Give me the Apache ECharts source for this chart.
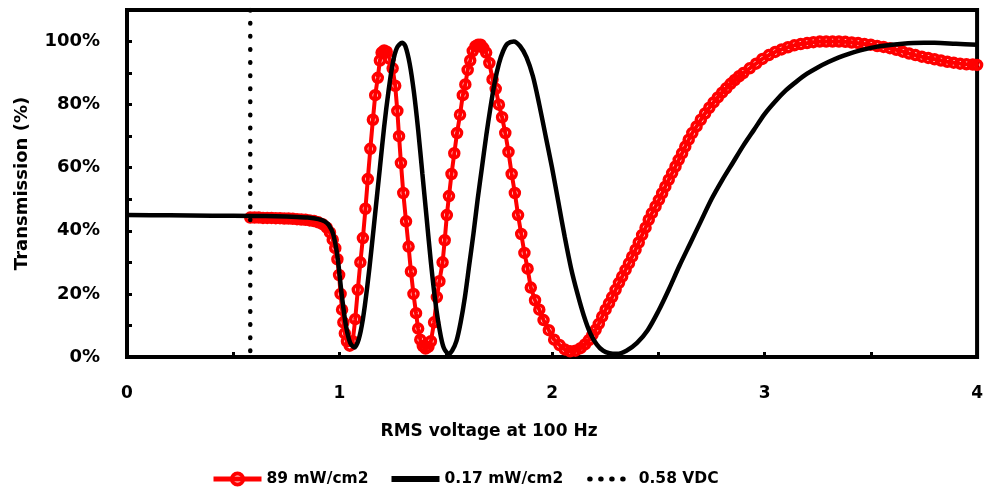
<!DOCTYPE html>
<html>
<head>
<meta charset="utf-8">
<script src="https://cdn.jsdelivr.net/npm/echarts@6/dist/echarts.min.js"></script>
<style>html,body{margin:0;padding:0;background:#fff;}#c{width:986px;height:491px;}</style>
</head>
<body>
<div id="c"></div>
<script>
// ---- data ----
const seriesNames = ['89 mW/cm2', '0.17 mW/cm2', '0.58 VDC'];
const xLabels = ['0', '1', '2', '3', '4'];
const yLabels = ['0%', '20%', '40%', '60%', '80%', '100%'];

const redVoltage = [0.58,0.60,0.62,0.64,0.66,0.68,0.70,0.72,0.74,0.76,0.78,0.80,0.82,0.84,0.86,0.88,0.90,0.92,0.94,0.955,0.968,0.98,0.99,0.998,1.005,1.012,1.018,1.025,1.035,1.048,1.062,1.074,1.086,1.098,1.11,1.122,1.133,1.145,1.157,1.168,1.18,1.19,1.198,1.21,1.222,1.236,1.25,1.262,1.272,1.28,1.289,1.30,1.313,1.325,1.336,1.348,1.36,1.37,1.38,1.392,1.405,1.418,1.43,1.445,1.458,1.47,1.485,1.495,1.505,1.515,1.527,1.54,1.553,1.567,1.58,1.592,1.603,1.615,1.627,1.64,1.652,1.664,1.676,1.69,1.705,1.72,1.735,1.75,1.765,1.78,1.795,1.81,1.825,1.84,1.855,1.87,1.885,1.90,1.92,1.94,1.96,1.985,2.01,2.035,2.06,2.085,2.11,2.134,2.155,2.174,2.19,2.205,2.22,2.236,2.252,2.268,2.283,2.299,2.315,2.33,2.346,2.362,2.377,2.393,2.408,2.424,2.44,2.455,2.47,2.487,2.503,2.518,2.533,2.549,2.565,2.581,2.596,2.612,2.627,2.643,2.66,2.68,2.70,2.72,2.74,2.76,2.78,2.80,2.82,2.84,2.86,2.88,2.90,2.93,2.96,2.99,3.02,3.05,3.08,3.11,3.14,3.17,3.20,3.23,3.26,3.29,3.32,3.35,3.38,3.41,3.44,3.47,3.50,3.53,3.56,3.59,3.62,3.65,3.68,3.71,3.74,3.77,3.80,3.83,3.86,3.89,3.92,3.95,3.98,4.00];
const redTransmission = [0.442,0.442,0.442,0.441,0.441,0.441,0.440,0.440,0.439,0.439,0.438,0.437,0.436,0.435,0.433,0.431,0.427,0.421,0.410,0.395,0.372,0.345,0.31,0.26,0.20,0.15,0.11,0.075,0.05,0.036,0.05,0.12,0.213,0.30,0.377,0.47,0.564,0.66,0.752,0.83,0.885,0.94,0.965,0.972,0.968,0.945,0.915,0.86,0.78,0.70,0.615,0.52,0.43,0.35,0.271,0.20,0.139,0.09,0.055,0.035,0.027,0.032,0.05,0.11,0.19,0.24,0.30,0.37,0.45,0.51,0.58,0.646,0.71,0.768,0.83,0.864,0.91,0.94,0.97,0.985,0.99,0.99,0.98,0.965,0.932,0.88,0.85,0.80,0.76,0.71,0.65,0.58,0.52,0.45,0.39,0.33,0.28,0.22,0.18,0.15,0.117,0.085,0.055,0.038,0.024,0.018,0.02,0.028,0.04,0.054,0.07,0.086,0.105,0.128,0.15,0.17,0.19,0.213,0.235,0.255,0.276,0.297,0.318,0.34,0.363,0.387,0.41,0.435,0.456,0.477,0.498,0.519,0.54,0.562,0.583,0.604,0.625,0.646,0.667,0.689,0.71,0.731,0.752,0.772,0.79,0.807,0.823,0.838,0.852,0.866,0.878,0.89,0.90,0.915,0.93,0.945,0.957,0.967,0.975,0.982,0.988,0.992,0.995,0.998,1.0,1.0,1.0,1.0,0.999,0.997,0.995,0.992,0.99,0.986,0.983,0.979,0.974,0.968,0.962,0.957,0.952,0.948,0.944,0.94,0.936,0.933,0.93,0.928,0.927,0.926];

const blackVoltage = [0,0.2,0.4,0.6,0.7,0.8,0.85,0.9,0.93,0.95,0.97,0.99,1.01,1.03,1.05,1.07,1.09,1.11,1.13,1.15,1.17,1.19,1.21,1.23,1.25,1.27,1.295,1.31,1.33,1.35,1.37,1.39,1.41,1.43,1.45,1.47,1.49,1.515,1.53,1.55,1.57,1.59,1.61,1.63,1.65,1.67,1.69,1.71,1.73,1.75,1.77,1.79,1.82,1.85,1.88,1.91,1.94,1.97,2.0,2.03,2.06,2.09,2.12,2.15,2.18,2.21,2.24,2.27,2.305,2.35,2.40,2.45,2.50,2.55,2.60,2.65,2.70,2.75,2.80,2.85,2.90,2.95,3.00,3.05,3.10,3.15,3.20,3.25,3.30,3.35,3.40,3.45,3.50,3.55,3.60,3.65,3.70,3.75,3.80,3.90,4.00];
const blackTransmission = [0.45,0.449,0.448,0.447,0.446,0.444,0.442,0.437,0.43,0.418,0.39,0.32,0.2,0.1,0.045,0.03,0.055,0.12,0.22,0.34,0.47,0.6,0.73,0.84,0.93,0.98,0.996,0.985,0.93,0.84,0.72,0.58,0.44,0.3,0.18,0.09,0.03,0.01,0.02,0.05,0.11,0.19,0.29,0.39,0.5,0.6,0.7,0.79,0.87,0.93,0.97,0.993,1.0,0.985,0.95,0.89,0.8,0.7,0.6,0.49,0.38,0.28,0.2,0.13,0.075,0.04,0.02,0.012,0.01,0.02,0.045,0.085,0.145,0.215,0.29,0.36,0.43,0.50,0.56,0.615,0.67,0.72,0.77,0.81,0.845,0.873,0.898,0.918,0.935,0.95,0.962,0.972,0.98,0.986,0.99,0.993,0.995,0.996,0.996,0.993,0.99];

const vdcVoltage = [0.58, 0.58];
const vdcTransmission = [0.0, 1.1];

const zip = (a, b) => a.map((v, i) => [v, b[i]]);

const FONT = 'DejaVu Sans';
const chart = echarts.init(document.getElementById('c'), null, {renderer: 'canvas'});
chart.setOption({
  animation: false,
  backgroundColor: '#fff',
  grid: {left: 127, right: 7, top: 10, bottom: 134, show: true, borderColor: '#000', borderWidth: 4, backgroundColor: 'transparent'},
  legend: {
    left: 206, top: 466, itemWidth: 48, itemHeight: 14, itemGap: 20,
    textStyle: {fontFamily: FONT, fontWeight: 'bold', fontSize: 15.5, color: '#000'},
    data: [
      {name: seriesNames[0], lineStyle: {width: 5}, itemStyle: {borderWidth: 4}},
      {name: seriesNames[1], itemStyle: {opacity: 0}, lineStyle: {width: 6}},
      {name: seriesNames[2], itemStyle: {opacity: 0}, lineStyle: {width: 5, type: [0.5, 10.5], cap: 'round', dashOffset: -4}}
    ]
  },
  xAxis: {
    type: 'value', min: 0, max: 4, interval: 0.5,
    name: 'RMS voltage at 100 Hz', nameLocation: 'middle', nameGap: 66,
    nameTextStyle: {fontFamily: FONT, fontWeight: 'bold', fontSize: 17, color: '#000', padding: [0, 126, 0, 0]},
    axisLine: {show: true, lineStyle: {color: '#000', width: 4}},
    axisTick: {show: true, inside: true, length: 5, lineStyle: {color: '#000', width: 3}},
    axisLabel: {margin: 28, fontFamily: FONT, fontWeight: 'bold', fontSize: 17, color: '#000',
      formatter: v => { const s = String(Math.round(v)); return (Math.abs(v - Math.round(v)) < 1e-6 && xLabels.includes(s)) ? s : ''; }},
    splitLine: {show: false}
  },
  yAxis: {
    type: 'value', min: 0, max: 1.1, interval: 0.1,
    name: 'Transmission (%)', nameLocation: 'middle', nameGap: 96,
    nameTextStyle: {fontFamily: FONT, fontWeight: 'bold', fontSize: 18, color: '#000'},
    axisLine: {show: true, lineStyle: {color: '#000', width: 4}},
    axisTick: {show: true, inside: true, length: 5, lineStyle: {color: '#000', width: 3}},
    axisLabel: {margin: 27, fontFamily: FONT, fontWeight: 'bold', fontSize: 18, color: '#000',
      formatter: v => { const p = Math.round(v * 100); const s = p + '%'; return (p % 20 === 0 && yLabels.includes(s)) ? s : ''; }},
    splitLine: {show: false}
  },
  series: [
    {
      name: seriesNames[0], type: 'line', data: zip(redVoltage, redTransmission),
      symbol: 'circle', symbolSize: 9, showSymbol: true,
      itemStyle: {color: 'rgba(255,0,0,0)', borderColor: '#ff0000', borderWidth: 3.5},
      lineStyle: {color: '#ff0000', width: 4}, z: 2
    },
    {
      name: seriesNames[1], type: 'line', data: zip(blackVoltage, blackTransmission),
      showSymbol: false, symbol: 'none', smooth: 0.3,
      itemStyle: {color: '#000'},
      lineStyle: {color: '#000', width: 4.5}, z: 3
    },
    {
      name: seriesNames[2], type: 'line', data: zip(vdcVoltage, vdcTransmission),
      showSymbol: false, symbol: 'none',
      itemStyle: {color: '#000'},
      lineStyle: {color: '#000', width: 4.5, type: [0.5, 12.6], cap: 'round', dashOffset: -6}, z: 4
    }
  ]
});
</script>
</body>
</html>
